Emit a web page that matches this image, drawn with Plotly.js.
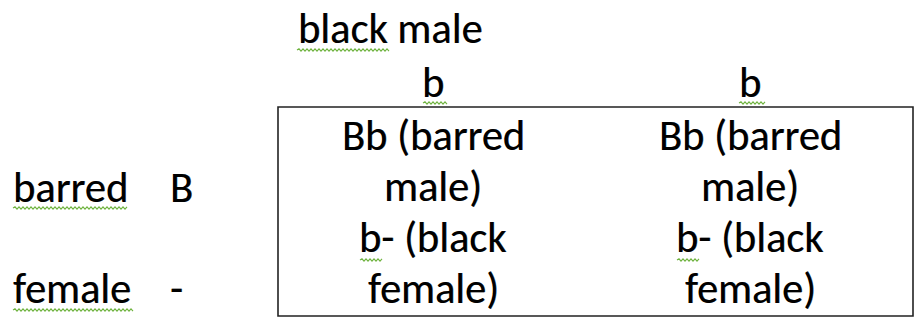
<!DOCTYPE html>
<html><head><meta charset="utf-8">
<script src="https://cdn.plot.ly/plotly-3.0.1.min.js"></script>
<style>html,body{margin:0;padding:0;background:#fff}#chart{width:916px;height:323px}</style>
</head><body><div id="chart"></div>
<script>
// ---- content ----
const parentTitle = "black male";
const maleAlleles = ["b", "b"];
const femaleTraits = ["barred", "female"];
const femaleAlleles = ["B", "-"];
const offspringCells = [
  ["Bb (barred\nmale)", "Bb (barred\nmale)"],
  ["b- (black\nfemale)", "b- (black\nfemale)"]
];

// ---- layout positions (pixel-like axes) ----
const W = 916, H = 323;
const FONT = {family: "Calibri, Carlito, Lato, sans-serif", size: 42.5, color: "#000",
              shadow: "0.5px 0 0 rgba(0,0,0,0.55)"};
const colCenters = [433, 750];
const titlePos = {x: 296, y: 28};
const alleleY = 82;
const lineYs = [[135, 186], [237, 288]];
const leftTraitX = 11, leftAlleleX = 168;
const leftRowY = [187, 288];
const box = {x0: 278, x1: 913, y0: 107, y1: 316};
const squiggles = [
  [297, 389, 50], [423, 448, 103], [739, 765, 103],
  [13, 128, 208], [13, 133, 310], [360, 383, 260], [677, 700, 260]
];

function squigglePath(x0, x1, y) {
  let p = `M ${x0} ${y}`;
  let up = true;
  for (let x = x0 + 2; x <= x1; x += 2) { p += ` L ${x} ${up ? y - 1.2 : y + 1.2}`; up = !up; }
  return p;
}

const ann = [];
function addText(text, x, y, xanchor) {
  ann.push({text, x, y, xref: "x", yref: "y", xanchor: xanchor || "center", yanchor: "middle",
            showarrow: false, font: FONT});
}
addText(parentTitle, titlePos.x, titlePos.y, "left");
maleAlleles.forEach((a, i) => addText(a, colCenters[i], alleleY));
femaleTraits.forEach((t, r) => addText(t, leftTraitX, leftRowY[r], "left"));
femaleAlleles.forEach((a, r) => addText(a, leftAlleleX, leftRowY[r], "left"));
offspringCells.forEach((row, r) => row.forEach((cell, c) => {
  cell.split("\n").forEach((line, k) => addText(line, colCenters[c], lineYs[r][k]));
}));

const shapes = [{type: "rect", xref: "x", yref: "y", x0: box.x0, x1: box.x1, y0: box.y0, y1: box.y1,
  line: {color: "#222", width: 1.6}, fillcolor: "rgba(0,0,0,0)"}];
squiggles.forEach(s => shapes.push({type: "path", xref: "x", yref: "y", path: squigglePath(s[0], s[1], s[2]),
  line: {color: "#6fb33f", width: 1.1}}));

Plotly.newPlot("chart", [{x: [], y: [], type: "scatter", hoverinfo: "skip"}], {
  width: W, height: H, margin: {l: 0, r: 0, t: 0, b: 0},
  paper_bgcolor: "#fff", plot_bgcolor: "#fff", showlegend: false,
  xaxis: {range: [0, W], visible: false, fixedrange: true},
  yaxis: {range: [H, 0], visible: false, fixedrange: true},
  annotations: ann, shapes: shapes
}, {staticPlot: true, displayModeBar: false});
</script></body></html>
